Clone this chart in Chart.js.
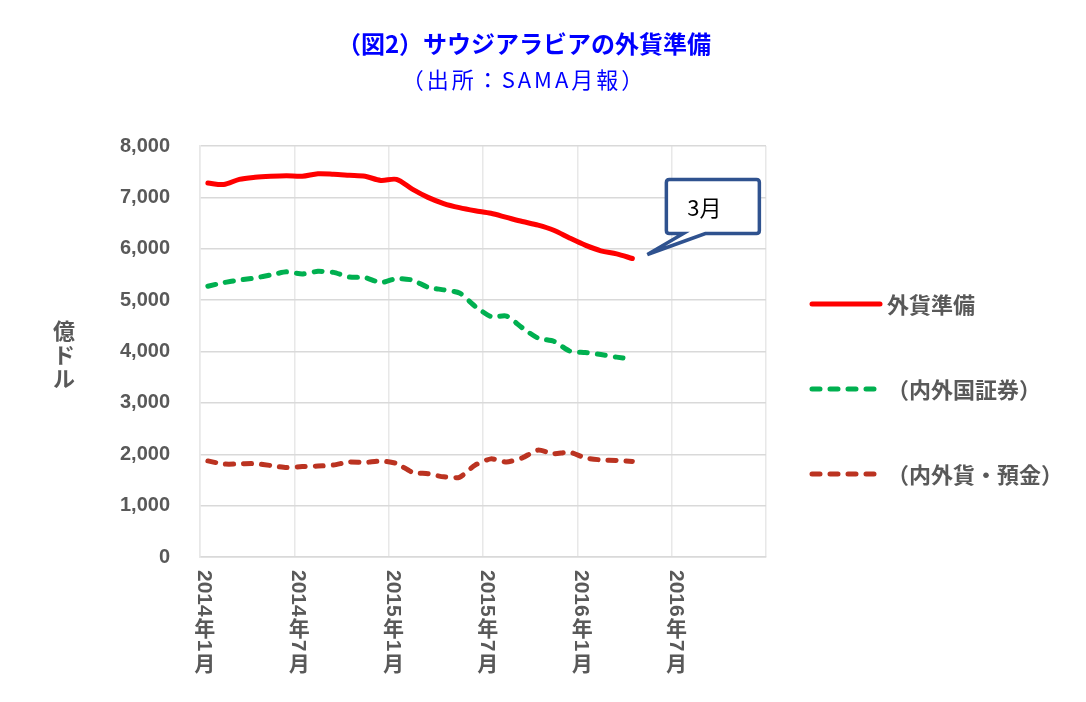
<!DOCTYPE html>
<html>
<head>
<meta charset="utf-8">
<title>サウジアラビアの外貨準備</title>
<script src="https://cdn.jsdelivr.net/npm/chart.js@4.4.1/dist/chart.umd.min.js"></script>
<style>
html, body { margin: 0; padding: 0; background: #fff; }
</style>
</head>
<body>
<canvas id="myChart" width="1086" height="702"></canvas>
<script>
// categories (monthly, 2014/1 - 2016/12)
var months = [
    '2014/1', '2014/2', '2014/3', '2014/4', '2014/5', '2014/6', '2014/7', '2014/8', '2014/9', '2014/10', '2014/11', '2014/12',
    '2015/1', '2015/2', '2015/3', '2015/4', '2015/5', '2015/6', '2015/7', '2015/8', '2015/9', '2015/10', '2015/11', '2015/12',
    '2016/1', '2016/2', '2016/3', '2016/4', '2016/5', '2016/6', '2016/7', '2016/8', '2016/9', '2016/10', '2016/11', '2016/12'
];

// 億ドル
var reserves = [7280, 7250, 7350, 7390, 7410, 7420, 7410, 7460, 7450, 7430, 7410, 7330, 7350, 7160,
    7000, 6880, 6800, 6740, 6690, 6610, 6530, 6460, 6360, 6210, 6070, 5960, 5900, 5810];
var securities = [5270, 5340, 5390, 5430, 5490, 5550, 5510, 5560, 5540, 5450, 5440, 5340, 5420, 5390,
    5250, 5200, 5140, 4880, 4680, 4690, 4460, 4260, 4200, 4010, 3980, 3940, 3890, 3850];
var deposits = [1870, 1810, 1810, 1820, 1780, 1740, 1760, 1770, 1790, 1850, 1840, 1870, 1820, 1650,
    1620, 1560, 1550, 1790, 1910, 1850, 1930, 2080, 2010, 2040, 1930, 1890, 1880, 1860];

var seriesNames = ['外貨準備', '（内外国証券）', '（内外貨・預金）'];
var xTickLabels = ['2014年1月', '2014年7月', '2015年1月', '2015年7月', '2016年1月', '2016年7月'];
var xTickEvery = 6;
var yTicks = [0, 1000, 2000, 3000, 4000, 5000, 6000, 7000, 8000];
var titleLines = ['（図2）サウジアラビアの外貨準備', '（出所：SAMA月報）'];
var yTitle = '億ドル';
var calloutText = '3月';

var grey = '#595959';
var cjk = '"Noto Sans CJK JP", sans-serif';
var latin = '"Liberation Sans", Arial, sans-serif';

// titre, axe vertical, etiquettes de l'axe X, legende et bulle
var extras = {
    id: 'extras',
    afterDraw: function(chart) {
        var ctx = chart.ctx;
        var xs = chart.scales.x;
        var ys = chart.scales.y;
        var area = chart.chartArea;

        ctx.save();
        ctx.fillStyle = '#0000ff';
        ctx.textAlign = 'center';
        ctx.textBaseline = 'middle';
        ctx.font = 'bold 24px ' + cjk;
        ctx.fillText(titleLines[0], 524, 44);
        ctx.font = '22px ' + cjk;
        ctx.letterSpacing = '3px';
        ctx.fillText(titleLines[1], 524, 80);
        ctx.letterSpacing = '0px';

        // 億ドル (vertical)
        ctx.fillStyle = grey;
        ctx.font = 'bold 22px ' + cjk;
        ctx.textBaseline = 'top';
        for (var i = 0; i < yTitle.length; i++) {
            ctx.fillText(yTitle[i], 64, 320 + i * 24);
        }

        // x labels, written top to bottom
        for (var k = 0; k < xTickLabels.length; k++) {
            var px = xs.getPixelForValue(k * xTickEvery) - 3;
            var py = area.bottom + 13;
            var parts = xTickLabels[k].match(/[0-9]+|[^0-9]/g);
            parts.forEach(function(p) {
                if (/^[0-9]+$/.test(p)) {
                    ctx.font = 'bold 21px ' + latin;
                    var w = ctx.measureText(p).width;
                    ctx.save();
                    ctx.translate(px, py);
                    ctx.rotate(Math.PI / 2);
                    ctx.textAlign = 'left';
                    ctx.textBaseline = 'middle';
                    ctx.fillText(p, 0, 1);
                    ctx.restore();
                    py += w + 1;
                } else {
                    ctx.font = 'bold 21px ' + cjk;
                    ctx.textAlign = 'center';
                    ctx.textBaseline = 'top';
                    ctx.fillText(p, px, py);
                    py += 22;
                }
            });
        }

        // legend
        var ds = chart.data.datasets;
        for (var j = 0; j < ds.length; j++) {
            var ly = 304 + j * 85;
            ctx.save();
            ctx.strokeStyle = ds[j].borderColor;
            ctx.lineWidth = ds[j].borderWidth;
            ctx.lineCap = 'round';
            ctx.setLineDash(ds[j].borderDash || []);
            ctx.beginPath();
            ctx.moveTo(812, ly);
            ctx.lineTo(880, ly);
            ctx.stroke();
            ctx.restore();
            ctx.fillStyle = grey;
            ctx.font = 'bold 22px ' + cjk;
            ctx.textAlign = 'left';
            ctx.textBaseline = 'middle';
            ctx.fillText(ds[j].label, 887, ly + 1);
        }

        // bulle "3月" next to the last point
        var last = reserves.length - 1;
        var lx = xs.getPixelForValue(last);
        var lyy = ys.getPixelForValue(reserves[last]);
        var tipX = lx + 15, tipY = lyy - 4;
        var bx0 = lx + 34, by0 = lyy - 79, bx1 = lx + 127, by1 = lyy - 25;
        var r = 3;
        ctx.beginPath();
        ctx.moveTo(bx0 + r, by0);
        ctx.lineTo(bx1 - r, by0);
        ctx.quadraticCurveTo(bx1, by0, bx1, by0 + r);
        ctx.lineTo(bx1, by1 - r);
        ctx.quadraticCurveTo(bx1, by1, bx1 - r, by1);
        ctx.lineTo(lx + 73, by1);
        ctx.lineTo(tipX, tipY);
        ctx.lineTo(lx + 51, by1);
        ctx.lineTo(bx0 + r, by1);
        ctx.quadraticCurveTo(bx0, by1, bx0, by1 - r);
        ctx.lineTo(bx0, by0 + r);
        ctx.quadraticCurveTo(bx0, by0, bx0 + r, by0);
        ctx.closePath();
        ctx.fillStyle = '#ffffff';
        ctx.fill();
        ctx.strokeStyle = '#2f528f';
        ctx.lineWidth = 3.5;
        ctx.lineJoin = 'miter';
        ctx.stroke();
        ctx.fillStyle = '#000000';
        ctx.font = '22px ' + cjk;
        ctx.textAlign = 'center';
        ctx.textBaseline = 'middle';
        ctx.fillText(calloutText, lx + 72, lyy - 51);
        ctx.restore();
    }
};

document.addEventListener('DOMContentLoaded', function() {
    var ctx = document.getElementById('myChart').getContext('2d');
    var myChart = new Chart(ctx, {
        type: 'line',
        data: {
            labels: months,
            datasets: [{
                label: seriesNames[0],
                data: reserves,
                borderColor: '#ff0000',
                borderWidth: 5,
                borderCapStyle: 'round',
                borderJoinStyle: 'round',
                pointRadius: 0,
                tension: 0.3
            }, {
                label: seriesNames[1],
                data: securities,
                borderColor: '#00b050',
                borderWidth: 5,
                borderDash: [8, 10],
                borderCapStyle: 'round',
                pointRadius: 0,
                tension: 0.2
            }, {
                label: seriesNames[2],
                data: deposits,
                borderColor: '#bb3321',
                borderWidth: 5,
                borderDash: [8, 10],
                borderCapStyle: 'round',
                pointRadius: 0,
                tension: 0.2
            }]
        },
        options: {
            responsive: false,
            animation: false,
            layout: { padding: { top: 146, right: 320, left: 0, bottom: 0 } },
            plugins: {
                legend: { display: false },
                title: { display: false },
                tooltip: { enabled: false }
            },
            scales: {
                x: {
                    type: 'category',
                    offset: true,
                    afterFit: function(scale) { scale.height = 145; },
                    ticks: { display: false },
                    grid: {
                        offset: true,
                        drawTicks: false,
                        lineWidth: 1.5,
                        color: function(c) {
                            return (c.index === undefined || c.index % xTickEvery === 0) ? '#e8e8e8' : 'rgba(0,0,0,0)';
                        }
                    },
                    border: { display: true, color: '#d9d9d9', width: 1.5 }
                },
                y: {
                    min: yTicks[0],
                    max: yTicks[yTicks.length - 1],
                    afterFit: function(scale) { scale.width = 200; },
                    afterBuildTicks: function(scale) {
                        scale.ticks = yTicks.map(function(v) { return { value: v }; });
                    },
                    ticks: {
                        padding: 30,
                        color: grey,
                        font: { family: 'Liberation Sans', size: 20, weight: 'bold' },
                        callback: function(value) { return value.toLocaleString('en-US'); }
                    },
                    grid: { color: '#d9d9d9', lineWidth: 1.5, drawTicks: false },
                    border: { display: true, color: '#e8e8e8', width: 1.5 }
                }
            }
        },
        plugins: [extras]
    });
});
</script>
</body>
</html>
